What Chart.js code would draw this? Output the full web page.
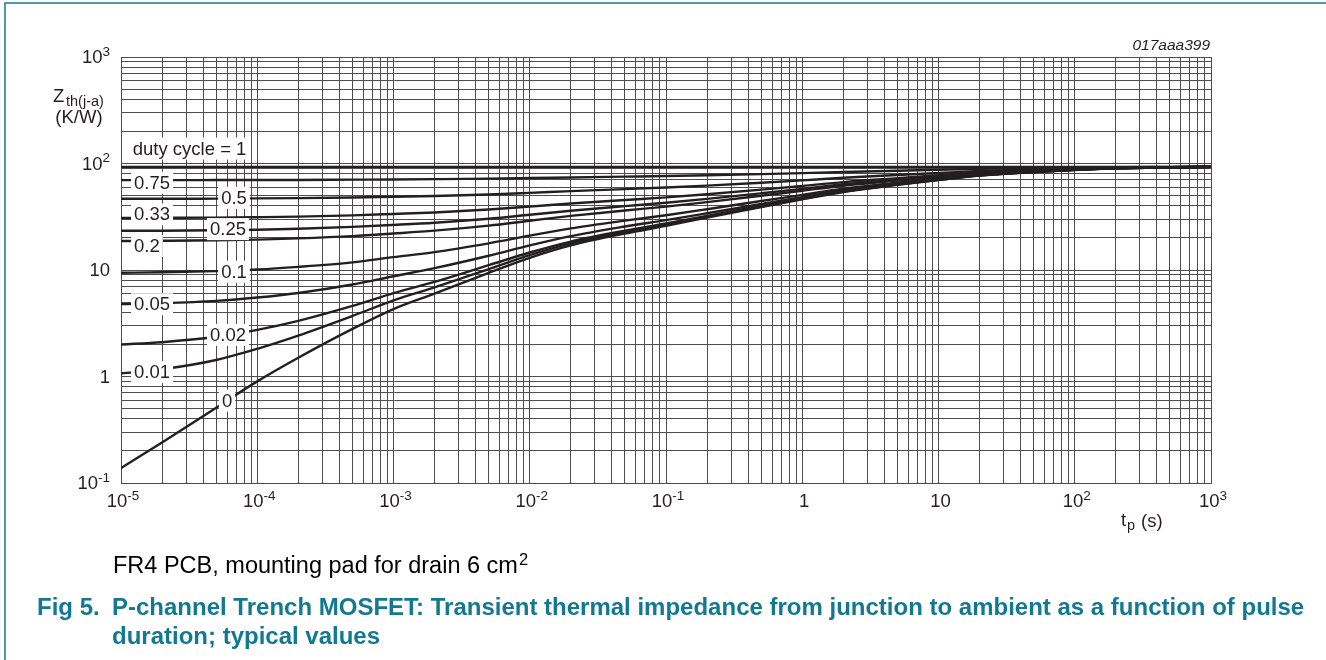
<!DOCTYPE html>
<html>
<head>
<meta charset="utf-8">
<script src="https://cdn.jsdelivr.net/npm/chart.js@4.4.1/dist/chart.umd.min.js"></script>
<style>
  html, body { margin: 0; padding: 0; background: #fff; }
  #wrap { position: relative; width: 1326px; height: 660px; }
</style>
</head>
<body>
<div id="wrap"><canvas id="zthChart" width="1326" height="660"></canvas></div>
<script>
// pulse duration tp (s)
var pulseTimes = [1e-5, 2e-5, 5e-5, 1e-4, 2e-4, 5e-4, 1e-3, 2e-3, 5e-3, 1e-2, 2e-2, 5e-2,
                  0.1, 0.2, 0.5, 1, 2, 5, 10, 20, 50, 100, 200, 500, 1000];

// Zth(j-a) in K/W, one array per duty cycle
var zthD1   = [93, 93, 93, 93, 93, 93, 93, 93, 93, 93, 93, 93, 93, 93, 93, 93, 93, 93, 93, 93, 93, 93, 93, 93, 93];
var zthD075 = [69.8, 69.8, 69.9, 70.0, 70.1, 70.5, 70.8, 71.3, 72.1, 73.0, 74.0, 75.3, 76.3, 77.5, 79.5, 81.3, 83.3, 85.5, 87.3, 89.0, 90.5, 91.5, 92.3, 92.8, 93];
var zthD05  = [46.6, 46.6, 46.8, 47.0, 47.3, 47.9, 48.7, 49.5, 51.2, 53.0, 55.0, 57.5, 59.5, 62.0, 66.0, 69.5, 73.5, 78.0, 81.5, 85.0, 88.0, 90.0, 91.5, 92.5, 93];
var zthD033 = [30.8, 30.9, 31.0, 31.3, 31.7, 32.6, 33.6, 34.7, 37.0, 39.4, 42.1, 45.4, 48.1, 51.5, 56.8, 61.5, 66.9, 72.9, 77.6, 82.3, 86.3, 89.0, 91.0, 92.3, 93];
var zthD025 = [23.4, 23.4, 23.6, 23.9, 24.4, 25.4, 26.5, 27.8, 30.3, 33.0, 36.0, 39.8, 42.8, 46.5, 52.5, 57.8, 63.8, 70.5, 75.8, 81.0, 85.5, 88.5, 90.8, 92.3, 93];
var zthD02  = [18.7, 18.8, 19.0, 19.3, 19.8, 20.8, 22.0, 23.4, 26.1, 29.0, 32.2, 36.2, 39.4, 43.4, 49.8, 55.4, 61.8, 69.0, 74.6, 80.2, 85.0, 88.2, 90.6, 92.2, 93];
var zthD01  = [9.42, 9.52, 9.76, 10.1, 10.7, 11.8, 13.2, 14.7, 17.8, 21.0, 24.6, 29.1, 32.7, 37.2, 44.4, 50.7, 57.9, 66.0, 72.3, 78.6, 84.0, 87.6, 90.3, 92.1, 93];
var zthD005 = [4.78, 4.88, 5.13, 5.51, 6.08, 7.31, 8.74, 10.4, 13.6, 17.0, 20.8, 25.6, 29.4, 34.1, 41.7, 48.4, 56.0, 64.5, 71.2, 77.8, 83.5, 87.3, 90.2, 92.1, 93];
var zthD002 = [2.0, 2.1, 2.36, 2.74, 3.33, 4.6, 6.07, 7.74, 11.1, 14.6, 18.5, 23.4, 27.3, 32.2, 40.1, 46.9, 54.8, 63.6, 70.5, 77.3, 83.2, 87.1, 90.1, 92.0, 93];
var zthD001 = [1.07, 1.17, 1.43, 1.82, 2.42, 3.7, 5.19, 6.87, 10.2, 13.8, 17.8, 22.7, 26.7, 31.6, 39.5, 46.5, 54.4, 63.3, 70.2, 77.2, 83.1, 87.1, 90.0, 92.0, 93];
var zthD0   = [0.138, 0.24, 0.51, 0.9, 1.5, 2.8, 4.3, 6.0, 9.4, 13, 17, 22, 26, 31, 39, 46, 54, 63, 70, 77, 83, 87, 90, 92, 93];

var zthSeries = [zthD1, zthD075, zthD05, zthD033, zthD025, zthD02, zthD01, zthD005, zthD002, zthD001, zthD0];

// curve labels and where they sit (tp in s, Zth in K/W)
var curveLabels = ["duty cycle = 1", "0.75", "0.5", "0.33", "0.25", "0.2", "0.1", "0.05", "0.02", "0.01", "0"];
var labelTp  = [1.22e-5, 1.69e-5, 6.75e-5, 1.69e-5, 6.1e-5, 1.55e-5, 6.75e-5, 1.69e-5, 6.1e-5, 1.69e-5, 6.0e-5];
var labelZth = [138, 65.9, 47.6, 33.3, 24.2, 16.8, 9.64, 4.77, 2.46, 1.10, 0.595];

// axis tick labels (base + superscript)
var xTickValues = [1e-5, 1e-4, 1e-3, 1e-2, 1e-1, 1, 10, 100, 1000];
var xTickBase   = ["10", "10", "10", "10", "10", "1", "10", "10", "10"];
var xTickExp    = ["-5", "-4", "-3", "-2", "-1", "", "", "2", "3"];
var yTickValues = [1000, 100, 10, 1, 0.1];
var yTickBase   = ["10", "10", "10", "1", "10"];
var yTickExp    = ["3", "2", "", "", "-1"];

var FONT = 'Arial, "Liberation Sans", sans-serif';
var TEAL = '#137990';
var INK = '#231f20';

function logTicks(e0, e1) {
    var out = [];
    for (var e = e0; e < e1; e++) {
        for (var m = 1; m <= 9; m++) {
            out.push({ value: Number((m * Math.pow(10, e)).toPrecision(10)) });
        }
    }
    out.push({ value: Math.pow(10, e1) });
    return out;
}

function supText(ctx, base, sup, x, y, align, size, supSize) {
    ctx.font = size + 'px ' + FONT;
    var wb = ctx.measureText(base).width;
    ctx.font = supSize + 'px ' + FONT;
    var ws = sup ? ctx.measureText(sup).width : 0;
    var left = x;
    if (align === 'right') left = x - wb - ws;
    if (align === 'center') left = x - (wb + ws) / 2;
    ctx.textAlign = 'left';
    ctx.textBaseline = 'middle';
    ctx.font = size + 'px ' + FONT;
    ctx.fillText(base, left, y);
    if (sup) {
        ctx.font = supSize + 'px ' + FONT;
        ctx.fillText(sup, left + wb, y - 6);
    }
}

var decorPlugin = {
    id: 'decor',
    afterDatasetsDraw: function (chart) {
        var ctx = chart.ctx;
        var xs = chart.scales.x, ys = chart.scales.y;
        ctx.save();
        ctx.font = '18.5px ' + FONT;
        ctx.textBaseline = 'middle';
        curveLabels.forEach(function (txt, i) {
            var px = xs.getPixelForValue(labelTp[i]);
            var py = ys.getPixelForValue(labelZth[i]);
            var w = ctx.measureText(txt).width;
            var left = i === 0 ? px : px - w / 2;
            ctx.fillStyle = '#fff';
            ctx.fillRect(left - 3, py - 11, w + 6, 22);
            ctx.fillStyle = INK;
            ctx.textAlign = 'left';
            ctx.fillText(txt, left, py + 1);
        });
        ctx.restore();
    },
    afterDraw: function (chart) {
        var ctx = chart.ctx;
        var xs = chart.scales.x, ys = chart.scales.y;
        ctx.save();

        // page frame
        ctx.strokeStyle = TEAL;
        ctx.lineWidth = 1.5;
        ctx.beginPath();
        ctx.moveTo(5, 660);
        ctx.lineTo(5, 3);
        ctx.lineTo(1326, 3);
        ctx.stroke();

        ctx.fillStyle = INK;
        xTickValues.forEach(function (v, i) {
            supText(ctx, xTickBase[i], xTickExp[i], xs.getPixelForValue(v) + 2, 502, 'center', 18.5, 13.5);
        });
        yTickValues.forEach(function (v, i) {
            supText(ctx, yTickBase[i], yTickExp[i], 110, ys.getPixelForValue(v) + 1, 'right', 18.5, 13.5);
        });

        // y title
        ctx.textBaseline = 'middle';
        ctx.textAlign = 'left';
        ctx.font = '18.5px ' + FONT;
        ctx.fillText('Z', 53, 97);
        ctx.font = '14.5px ' + FONT;
        ctx.fillText('th(j-a)', 66, 102);
        ctx.font = '18.5px ' + FONT;
        ctx.textAlign = 'center';
        ctx.fillText('(K/W)', 79, 118);

        // x title
        ctx.textAlign = 'left';
        ctx.fillText('t', 1121, 521);
        ctx.font = '14.5px ' + FONT;
        ctx.fillText('p', 1127, 526);
        ctx.font = '18.5px ' + FONT;
        ctx.fillText('(s)', 1141, 522);

        // drawing code
        ctx.font = 'italic 15.5px ' + FONT;
        ctx.textAlign = 'right';
        ctx.fillText('017aaa399', 1210, 46);

        // captions
        ctx.textAlign = 'left';
        ctx.fillStyle = '#000';
        ctx.font = '23.5px ' + FONT;
        ctx.fillText('FR4 PCB, mounting pad for drain 6 cm', 113, 567);
        var cw = ctx.measureText('FR4 PCB, mounting pad for drain 6 cm').width;
        ctx.font = '16.5px ' + FONT;
        ctx.fillText('2', 113 + cw + 1, 560);

        ctx.fillStyle = TEAL;
        ctx.font = 'bold 24px ' + FONT;
        ctx.fillText('Fig 5.', 37, 608);
        ctx.fillText('P-channel Trench MOSFET: Transient thermal impedance from junction to ambient as a function of pulse', 112, 608);
        ctx.fillText('duration; typical values', 112, 637);

        ctx.restore();
    }
};

var datasets = zthSeries.map(function (vals, i) {
    return {
        label: curveLabels[i],
        data: pulseTimes.map(function (t, j) { return { x: t, y: vals[j] }; }),
        borderColor: INK,
        borderWidth: 2.4,
        pointRadius: 0,
        fill: false,
        cubicInterpolationMode: 'monotone'
    };
});

var ctxZth = document.getElementById('zthChart').getContext('2d');
var zthChart = new Chart(ctxZth, {
    type: 'line',
    data: { datasets: datasets },
    options: {
        responsive: false,
        animation: false,
        layout: { padding: { left: 121, right: 115, top: 57, bottom: 177 } },
        plugins: {
            legend: { display: false },
            tooltip: { enabled: false },
            title: { display: false }
        },
        scales: {
            x: {
                type: 'logarithmic',
                min: 1e-5,
                max: 1e3,
                afterBuildTicks: function (s) { s.ticks = logTicks(-5, 3); },
                afterFit: function (s) { s.height = 0; },
                ticks: { display: false, autoSkip: false },
                grid: { color: '#4d4d4d', lineWidth: 1, drawTicks: false },
                border: { display: true, color: '#4d4d4d' }
            },
            y: {
                type: 'logarithmic',
                min: 0.1,
                max: 1000,
                afterBuildTicks: function (s) { s.ticks = logTicks(-1, 3); },
                afterFit: function (s) { s.width = 0; },
                ticks: { display: false, autoSkip: false },
                grid: { color: '#4d4d4d', lineWidth: 1, drawTicks: false },
                border: { display: true, color: '#4d4d4d' }
            }
        }
    },
    plugins: [decorPlugin]
});
</script>
</body>
</html>
